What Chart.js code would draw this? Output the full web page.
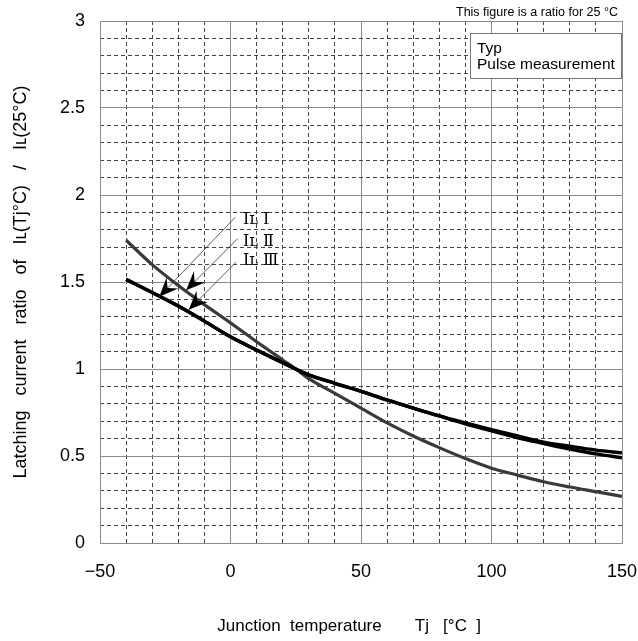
<!DOCTYPE html>
<html>
<head>
<meta charset="utf-8">
<title>Latching current ratio vs junction temperature</title>
<script src="https://cdn.jsdelivr.net/npm/chart.js@4.4.1/dist/chart.umd.min.js"></script>
<style>
  html, body { margin: 0; padding: 0; background: #fff; }
  canvas { display: block; }
</style>
</head>
<body>
<canvas id="latchChart" width="638" height="641"></canvas>
<script>
// Junction temperature Tj (°C)
const temps = [-40, -30, -20, -10, 0, 10, 20, 25, 30, 40, 50, 60, 70, 80, 90, 100, 110, 120, 130, 140, 150];

// IL(Tj) / IL(25°C)
const ratioIL1 = [1.515, 1.44, 1.362, 1.275, 1.185, 1.109, 1.036, 1.0, 0.966, 0.918, 0.872, 0.822, 0.775, 0.73, 0.69, 0.652, 0.615, 0.58, 0.556, 0.534, 0.518];
const ratioIL2 = [1.74, 1.60, 1.48, 1.37, 1.265, 1.157, 1.052, 1.0, 0.945, 0.86, 0.775, 0.69, 0.615, 0.548, 0.485, 0.43, 0.39, 0.352, 0.322, 0.295, 0.268];
const ratioIL3 = [1.515, 1.44, 1.362, 1.275, 1.185, 1.109, 1.036, 1.0, 0.966, 0.918, 0.872, 0.822, 0.775, 0.73, 0.685, 0.645, 0.605, 0.572, 0.54, 0.512, 0.49];

// curve labels and where their arrows point (°C, ratio)
const modeLabels = ['I\u029F \u2160', 'I\u029F \u2161', 'I\u029F \u2162'];
const labelAt = [[4.8, 1.856], [4.8, 1.732], [4.8, 1.622]];
const leaderFrom = [[1.8, 1.872], [2.8, 1.75], [2.2, 1.615]];
const arrowTip = [[-27.3, 1.415], [-17, 1.452], [-16, 1.34]];

const noteText = 'This figure is a ratio for 25 \u00B0C';
const boxLines = ['Typ', 'Pulse measurement'];

Chart.defaults.font.family = '"Liberation Sans", Arial, sans-serif';
Chart.defaults.color = '#000';

function toPoints(ys) {
    return temps.map((t, i) => ({ x: t, y: ys[i] }));
}

// Arrows, curve names, note and the Typ box
const annotations = {
    id: 'annotations',
    afterDatasetsDraw(chart) {
        const { ctx, scales: { x, y } } = chart;
        ctx.save();
        modeLabels.forEach((txt, i) => {
            const x0 = x.getPixelForValue(leaderFrom[i][0]);
            const y0 = y.getPixelForValue(leaderFrom[i][1]);
            const x1 = x.getPixelForValue(arrowTip[i][0]);
            const y1 = y.getPixelForValue(arrowTip[i][1]);

            ctx.strokeStyle = '#333';
            ctx.lineWidth = 0.8;
            ctx.setLineDash([]);
            ctx.beginPath();
            ctx.moveTo(x0, y0);
            ctx.lineTo(x1, y1);
            ctx.stroke();

            // barbed arrow head
            const ang = Math.atan2(y1 - y0, x1 - x0);
            ctx.save();
            ctx.translate(x1, y1);
            ctx.rotate(ang);
            ctx.beginPath();
            ctx.moveTo(0, 0);
            ctx.lineTo(-19, -8);
            ctx.lineTo(-12, 0);
            ctx.lineTo(-19, 8);
            ctx.closePath();
            ctx.fillStyle = '#000';
            ctx.fill();
            ctx.restore();

            ctx.fillStyle = '#000';
            ctx.font = '16px "DejaVu Serif", "Liberation Serif", serif';
            ctx.textAlign = 'left';
            ctx.textBaseline = 'middle';
            ctx.fillText(txt, x.getPixelForValue(labelAt[i][0]), y.getPixelForValue(labelAt[i][1]));
        });
        ctx.restore();
    },
    afterDraw(chart) {
        const { ctx, chartArea } = chart;
        ctx.save();
        ctx.fillStyle = '#000';
        ctx.font = '12.5px "Liberation Sans", Arial, sans-serif';
        ctx.textAlign = 'right';
        ctx.textBaseline = 'middle';
        ctx.fillText(noteText, chartArea.right - 4, chartArea.top - 8);

        const bw = 152, bh = 46;
        const bx = chartArea.right - bw, by = chartArea.top + 12;
        ctx.fillStyle = '#fff';
        ctx.fillRect(bx, by, bw, bh);
        ctx.strokeStyle = '#777';
        ctx.lineWidth = 1;
        ctx.strokeRect(bx + 0.5, by + 0.5, bw - 1, bh - 1);
        ctx.fillStyle = '#000';
        ctx.font = '15.5px "Liberation Sans", Arial, sans-serif';
        ctx.textAlign = 'left';
        boxLines.forEach((line, i) => {
            ctx.fillText(line, bx + 7, by + 16 + i * 16);
        });
        ctx.restore();
    }
};

const isMajor = (v, step) => Math.abs(v / step - Math.round(v / step)) < 1e-6;

// keep edge labels from pushing the plot area inwards
function fixHorizontal(h) {
    return scale => { scale.height = h; scale.paddingLeft = 0; scale.paddingRight = 0; };
}
function fixVertical(w) {
    return scale => { scale.width = w; scale.paddingTop = 0; scale.paddingBottom = 0; };
}

new Chart(document.getElementById('latchChart'), {
    type: 'line',
    data: {
        datasets: [{
            label: 'IL I',
            data: toPoints(ratioIL1),
            borderColor: '#000',
            borderWidth: 3.4,
            pointRadius: 0,
            cubicInterpolationMode: 'monotone'
        }, {
            label: 'IL III',
            data: toPoints(ratioIL3),
            borderColor: '#000',
            borderWidth: 3.4,
            pointRadius: 0,
            cubicInterpolationMode: 'monotone'
        }, {
            label: 'IL II',
            data: toPoints(ratioIL2),
            borderColor: '#3a3a3a',
            borderWidth: 3.2,
            pointRadius: 0,
            cubicInterpolationMode: 'monotone'
        }]
    },
    options: {
        responsive: false,
        animation: false,
        layout: { padding: { top: 21, right: 16, left: 0, bottom: 0 } },
        plugins: { legend: { display: false }, tooltip: { enabled: false } },
        scales: {
            x: {
                type: 'linear',
                min: -50,
                max: 150,
                ticks: {
                    stepSize: 50,
                    padding: 18,
                    font: { size: 18 },
                    callback: v => v < 0 ? '\u2212' + Math.abs(v) : String(v)
                },
                grid: { color: '#8a8a8a', lineWidth: 1, drawTicks: false },
                border: { color: '#8a8a8a' },
                title: {
                    display: true,
                    text: 'Junction  temperature       Tj   [\u00B0C  ]     ',
                    font: { size: 17 },
                    padding: { top: 0, bottom: 4 }
                },
                afterFit: fixHorizontal(98)
            },
            xMinor: {
                type: 'linear',
                position: 'bottom',
                min: -50,
                max: 150,
                ticks: { stepSize: 10, display: false },
                grid: {
                    drawTicks: false,
                    lineWidth: 1,
                    color: c => (c.tick && isMajor(c.tick.value, 50)) ? 'rgba(0,0,0,0)' : '#444'
                },
                border: { display: false, dash: [4, 3] },
                afterFit: fixHorizontal(0)
            },
            y: {
                type: 'linear',
                min: 0,
                max: 3,
                ticks: {
                    stepSize: 0.5,
                    padding: 15,
                    font: { size: 18 },
                    callback: v => String(v)
                },
                grid: { color: '#8a8a8a', lineWidth: 1, drawTicks: false },
                border: { color: '#8a8a8a' },
                title: {
                    display: true,
                    text: 'Latching   current   ratio   of   I\u029F(Tj\u00B0C)   /   I\u029F(25\u00B0C)',
                    font: { size: 18 },
                    padding: { top: 10, bottom: 0 }
                },
                afterFit: fixVertical(100)
            },
            yMinor: {
                type: 'linear',
                position: 'left',
                min: 0,
                max: 3,
                ticks: { stepSize: 0.1, display: false },
                grid: {
                    drawTicks: false,
                    lineWidth: 1,
                    color: c => (c.tick && isMajor(c.tick.value, 0.5)) ? 'rgba(0,0,0,0)' : '#444'
                },
                border: { display: false, dash: [4, 3] },
                afterFit: fixVertical(0)
            }
        }
    },
    plugins: [annotations]
});
</script>
</body>
</html>
